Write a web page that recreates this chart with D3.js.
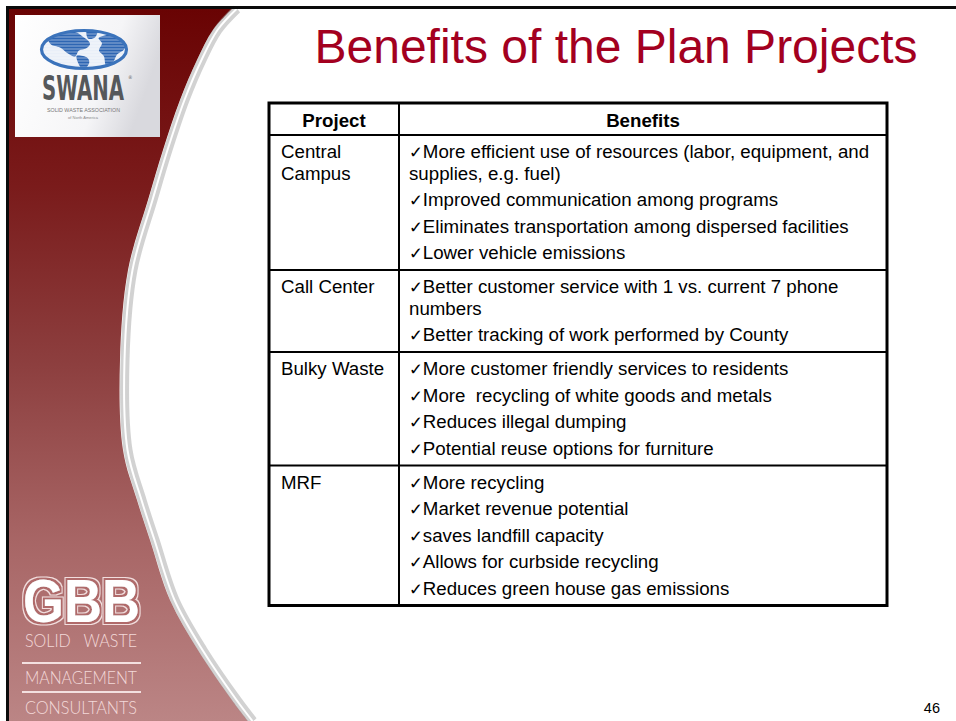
<!DOCTYPE html>
<html><head><meta charset="utf-8">
<script src="https://cdn.jsdelivr.net/npm/d3@7"></script>
<style>html,body{margin:0;padding:0;background:#fff;} svg{display:block;} text{white-space:pre;}</style>
</head><body><svg id="c" width="956" height="721"></svg>
<script>
// ---------- data ----------
const title = "Benefits of the Plan Projects";
const headers = ["Project", "Benefits"];
const projects = [["Central", "Campus"], ["Call Center"], ["Bulky Waste"], ["MRF"]];
const benefits = [
  [["More efficient use of resources (labor, equipment, and", "supplies, e.g. fuel)"],
   ["Improved communication among programs"],
   ["Eliminates transportation among dispersed facilities"],
   ["Lower vehicle emissions"]],
  [["Better customer service with 1 vs. current 7 phone", "numbers"],
   ["Better tracking of work performed by County"]],
  [["More customer friendly services to residents"],
   ["More  recycling of white goods and metals"],
   ["Reduces illegal dumping"],
   ["Potential reuse options for furniture"]],
  [["More recycling"],
   ["Market revenue potential"],
   ["saves landfill capacity"],
   ["Allows for curbside recycling"],
   ["Reduces green house gas emissions"]]
];
const pageNumber = "46";
const swanaName = "SWANA";
const swanaSub = ["SOLID WASTE ASSOCIATION", "of North America"];
const gbbName = "GBB";
const gbbLines = ["SOLID   WASTE", "MANAGEMENT", "CONSULTANTS"];
// sidebar edge (x,y)
const edge = [[232,9],[213,30],[197,60],[180,100],[163,150],[148,200],[128,270],[120,360],[123,450],[137,500],[150,540],[170,600],[198,650],[232,700],[248,721]];

// ---------- drawing ----------
const svg = d3.select("#c");
const defs = svg.append("defs");
const rg = defs.append("linearGradient").attr("id","redg").attr("x1",0).attr("y1",0).attr("x2",0).attr("y2",1);
[["0%","#690303"],["25%","#7a1b1b"],["50%","#8d3f3f"],["75%","#a86666"],["100%","#bb8585"]]
  .forEach(([o,c]) => rg.append("stop").attr("offset",o).attr("stop-color",c));
const wg = defs.append("linearGradient").attr("id","boxg").attr("x1",0).attr("y1",0).attr("x2",1).attr("y2",0.3);
[["0%","#ffffff"],["70%","#f5f5f7"],["100%","#d9d9de"]]
  .forEach(([o,c]) => wg.append("stop").attr("offset",o).attr("stop-color",c));
// outline filter for GBB letters
const f = defs.append("filter").attr("id","gbbout").attr("x","-10%").attr("y","-20%").attr("width","120%").attr("height","140%");
f.append("feMorphology").attr("in","SourceAlpha").attr("operator","dilate").attr("radius",3.2).attr("result","outer");
f.append("feFlood").attr("flood-color","#f2dede").attr("result","c1");
f.append("feComposite").attr("in","c1").attr("in2","outer").attr("operator","in").attr("result","ring1");
f.append("feMorphology").attr("in","SourceAlpha").attr("operator","dilate").attr("radius",1.6).attr("result","inner");
f.append("feFlood").attr("flood-color","#b06a6a").attr("result","c2");
f.append("feComposite").attr("in","c2").attr("in2","inner").attr("operator","in").attr("result","ring2");
const fm = f.append("feMerge");
fm.append("feMergeNode").attr("in","ring1");
fm.append("feMergeNode").attr("in","ring2");
fm.append("feMergeNode").attr("in","SourceGraphic");

svg.append("rect").attr("width",956).attr("height",721).attr("fill","#fff");

const edgeLine = d3.line().curve(d3.curveCatmullRom);
svg.append("path").attr("d", edgeLine(edge) + "L9,721L9,9Z").attr("fill","url(#redg)");

// silver swoosh
const shifted = edge.map(([x,y]) => [x+5,y]);
svg.append("path").attr("d", edgeLine(shifted)).attr("fill","none").attr("stroke","#9c9c9c").attr("stroke-width",9).attr("opacity",0.45);
svg.append("path").attr("d", edgeLine(shifted)).attr("fill","none").attr("stroke","#d2d2d2").attr("stroke-width",6);
svg.append("path").attr("d", edgeLine(edge.map(([x,y]) => [x+4.5,y]))).attr("fill","none").attr("stroke","#ffffff").attr("stroke-width",2);

// frame
svg.append("rect").attr("x",6).attr("y",6).attr("width",950).attr("height",3).attr("fill","#0b0b0b");
svg.append("rect").attr("x",6).attr("y",6).attr("width",3).attr("height",715).attr("fill","#0b0b0b");

// SWANA logo
const sw = svg.append("g");
sw.append("rect").attr("x",15).attr("y",15).attr("width",145).attr("height",122).attr("fill","url(#boxg)");
defs.append("clipPath").attr("id","globe").append("ellipse").attr("cx",84).attr("cy",49.5).attr("rx",43).attr("ry",19.5);
const gl = sw.append("g").attr("clip-path","url(#globe)");
gl.append("ellipse").attr("cx",84).attr("cy",49.5).attr("rx",43).attr("ry",19.5).attr("fill","#e9eff8");
const blobs = [
  [[-34,-12],[-12,-18],[0,-12],[6,-6],[2,-1],[-5,1],[-9,7],[-16,4],[-24,-2],[-33,-5]],
  [[-7,6],[3,8],[5,14],[-1,20],[-6,13]],
  [[3,-19],[13,-19],[11,-12],[4,-11]],
  [[15,-12],[30,-15],[42,-9],[40,0],[33,5],[29,13],[22,16],[20,7],[15,1],[18,-6]]
];
gl.selectAll("path.b").data(blobs).join("path").attr("class","b")
  .attr("d", d => d3.line().curve(d3.curveCardinalClosed)(d.map(([x,y]) => [84+x,49.5+y])))
  .attr("fill","#2e66b3");
gl.selectAll("line.s").data(d3.range(31,70,3)).join("line").attr("class","s")
  .attr("x1",40).attr("x2",128).attr("y1",d=>d).attr("y2",d=>d).attr("stroke","#ffffff").attr("stroke-width",0.8).attr("opacity",0.6);
sw.append("ellipse").attr("cx",84).attr("cy",49.5).attr("rx",42.5).attr("ry",19).attr("fill","none").attr("stroke","#3b73bb").attr("stroke-width",3.2);
const swt = sw.append("text").attr("x",42).attr("y",100).attr("fill","#55585b")
  .attr("font-family","'Liberation Sans Narrow','DejaVu Sans Condensed','Liberation Sans',sans-serif");
swt.append("tspan").attr("font-weight","bold").attr("font-size",34).attr("textLength",82).attr("lengthAdjust","spacingAndGlyphs").text(swanaName);
swt.append("tspan").attr("font-size",5).attr("dx",4).attr("dy",-21).attr("fill","#666").text("®");
sw.append("text").attr("x",83.5).attr("y",112).attr("text-anchor","middle").attr("font-family","Liberation Sans").attr("font-size",5.5)
  .attr("fill","#777").attr("textLength",73).attr("lengthAdjust","spacingAndGlyphs").text(swanaSub[0]);
sw.append("text").attr("x",83).attr("y",119).attr("text-anchor","middle").attr("font-family","Liberation Sans").attr("font-size",4)
  .attr("fill","#888").text(swanaSub[1]);

// GBB logo
const gb = svg.append("g");
gb.append("text").attr("x",23).attr("y",622)
  .attr("font-family","'Liberation Sans',Arial,sans-serif").attr("font-weight","bold").attr("font-size",61)
  .attr("textLength",117).attr("lengthAdjust","spacingAndGlyphs")
  .attr("fill","#ffffff").attr("filter","url(#gbbout)").text(gbbName);
const gbY = [647, 684, 714];
gb.selectAll("text.gl").data(gbbLines).join("text").attr("class","gl")
  .attr("x",25).attr("y",(d,i)=>gbY[i]).attr("font-family","Lato,'Open Sans',sans-serif").attr("font-weight",300)
  .attr("font-size",17).attr("fill","#f3d9d9").attr("textLength",112).attr("lengthAdjust","spacingAndGlyphs").text(d=>d);
gb.selectAll("rect.rl").data([662, 691]).join("rect").attr("class","rl")
  .attr("x",22).attr("y",d=>d).attr("width",119).attr("height",2).attr("fill","#f3e0e0");

// title
svg.append("text").attr("x",616).attr("y",63).attr("text-anchor","middle")
  .attr("font-family","'Liberation Sans',Arial,sans-serif").attr("font-size",48).attr("fill","#a3001f").text(title);

// table
const fontFam = "'Liberation Sans',Arial,sans-serif";
const fs = 18.7, firstBase = 23, lineH = 21.5, paraGap = 5, bottomPad = 11, headerH = 32;
const colEdges = [269, 399, 887];
const tableTop = 103;
const rowHeights = benefits.map(paras => {
  const L = d3.sum(paras, p => p.length);
  return firstBase + (L - 1) * lineH + (paras.length - 1) * paraGap + bottomPad;
});
const rowTops = [tableTop + headerH];
rowHeights.forEach((h,i) => rowTops.push(rowTops[i] + h));
const tableBottom = rowTops[rowTops.length - 1];
const x = d3.scaleOrdinal().domain([0,1]).range([colEdges[0], colEdges[1]]);
const tb = svg.append("g");

// headers
tb.selectAll("text.h").data(headers).join("text").attr("class","h")
  .attr("x",(d,i)=> (colEdges[i]+colEdges[i+1])/2).attr("y",tableTop+24).attr("text-anchor","middle")
  .attr("font-family",fontFam).attr("font-weight","bold").attr("font-size",fs).attr("fill","#000").text(d=>d);

// project cells
projects.forEach((lines, r) => {
  tb.selectAll(null).data(lines).join("text")
    .attr("x", x(0) + 12).attr("y", (d,i) => rowTops[r] + firstBase + i*lineH)
    .attr("font-family",fontFam).attr("font-size",fs).attr("fill","#000").text(d=>d);
});
// benefit cells
benefits.forEach((paras, r) => {
  let y = rowTops[r] + firstBase;
  paras.forEach(p => {
    p.forEach((line, li) => {
      const t = tb.append("text").attr("x", x(1) + 10).attr("y", y)
        .attr("font-family",fontFam).attr("font-size",fs).attr("fill","#000");
      if (li === 0) t.append("tspan").attr("font-family","'DejaVu Sans',sans-serif").attr("font-size",16.5).text("✓");
      t.append("tspan").text(line);
      y += lineH;
    });
    y += paraGap;
  });
});

// grid lines
tb.selectAll("line.r").data(rowTops.slice(0, -1)).join("line").attr("class","r")
  .attr("x1",colEdges[0]).attr("x2",colEdges[2]).attr("y1",d=>d).attr("y2",d=>d).attr("stroke","#000").attr("stroke-width",2);
tb.append("line").attr("x1",colEdges[1]).attr("x2",colEdges[1]).attr("y1",tableTop).attr("y2",tableBottom).attr("stroke","#000").attr("stroke-width",2);
tb.append("rect").attr("x",colEdges[0]).attr("y",tableTop).attr("width",colEdges[2]-colEdges[0]).attr("height",tableBottom-tableTop)
  .attr("fill","none").attr("stroke","#000").attr("stroke-width",3);

// page number
svg.append("text").attr("x",940).attr("y",713).attr("text-anchor","end").attr("font-family",fontFam).attr("font-size",14.5).attr("fill","#000").text(pageNumber);
</script></body></html>
